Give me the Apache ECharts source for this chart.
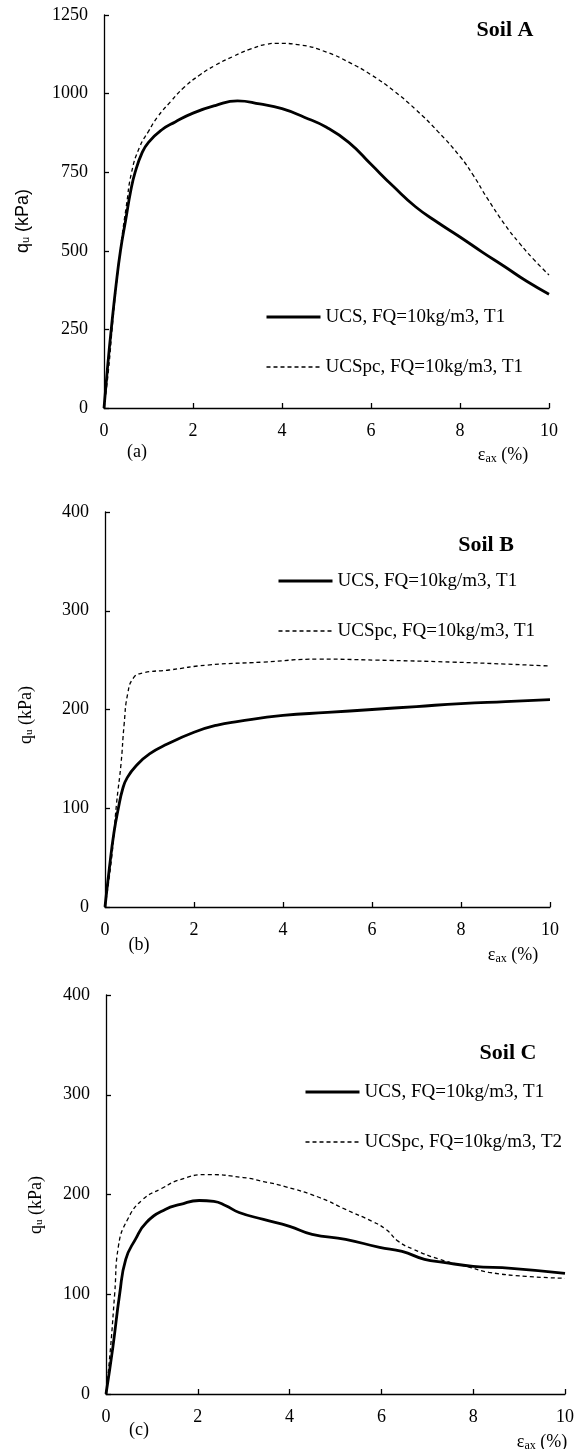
<!DOCTYPE html>
<html>
<head>
<meta charset="utf-8">
<script src="https://cdn.jsdelivr.net/npm/echarts@6/dist/echarts.min.js"></script>
<style>
  html, body { margin: 0; padding: 0; background: #fff; }
  #main { width: 588px; height: 1449px; }
</style>
</head>
<body>
<div id="main"></div>
<script>
// Soil A  (strain %, q kPa)
var epsA_ucs = [0, 0.08, 0.17, 0.27, 0.37, 0.49, 0.6, 0.7, 0.85, 1.0, 1.3, 1.6, 2.0, 2.5, 3.0, 3.5, 4.0, 4.5, 5.0, 5.5, 6.0, 6.5, 7.0, 7.5, 8.0, 8.5, 9.0, 9.5, 10];
var qA_ucs   = [0, 130, 260, 390, 500, 600, 690, 750, 810, 845, 885, 910, 938, 962, 977, 967, 952, 925, 893, 845, 775, 705, 640, 590, 544, 496, 450, 403, 362];
var epsA_pc  = [0, 0.1, 0.2, 0.3, 0.4, 0.5, 0.62, 0.8, 1.0, 1.2, 1.5, 1.8, 2.16, 2.5, 2.9, 3.3, 3.66, 3.9, 4.4, 5.0, 5.5, 6.0, 6.5, 7.0, 7.5, 8.0, 8.3, 8.6, 9.0, 9.33, 9.66, 10];
var qA_pc    = [0, 120, 280, 420, 540, 640, 750, 830, 880, 925, 975, 1020, 1060, 1090, 1118, 1142, 1157, 1160, 1155, 1132, 1100, 1060, 1010, 950, 880, 800, 740, 670, 585, 525, 472, 423];

// Soil B
var epsB_ucs = [0, 0.1, 0.2, 0.3, 0.4, 0.5, 0.7, 1.0, 1.4, 2.0, 2.5, 3.0, 4.0, 5.0, 6.0, 7.0, 8.0, 9.0, 10];
var qB_ucs   = [0, 40, 75, 100, 120, 131, 143, 155, 165, 177, 184, 188, 194, 197, 200, 203, 206, 208, 210];
var epsB_pc  = [0, 0.15, 0.26, 0.36, 0.43, 0.51, 0.64, 0.85, 1.44, 2.3, 3.55, 4.8, 6.1, 7.8, 9.0, 10];
var qB_pc    = [0, 50, 105, 145, 185, 216, 232, 237, 240, 245, 248, 251, 250, 248, 246, 244];

// Soil C
var epsC_ucs = [0, 0.15, 0.3, 0.43, 0.64, 0.88, 1.29, 1.62, 2.03, 2.35, 2.6, 2.9, 3.43, 4.0, 4.49, 5.22, 5.96, 6.45, 6.94, 7.35, 8.0, 8.83, 10];
var qC_ucs   = [0, 47, 101, 135, 155, 172, 185, 190, 194, 193, 189, 182, 175, 168, 160, 155, 147, 143, 135, 132, 128, 126, 121];
var epsC_pc  = [0, 0.1, 0.19, 0.27, 0.47, 0.8, 1.21, 1.62, 2.2, 2.99, 3.43, 3.9, 4.65, 5.22, 5.8, 6.1, 6.37, 6.7, 7.27, 7.93, 8.34, 9.15, 10];
var qC_pc    = [0, 47, 101, 148, 175, 195, 206, 215, 220, 217, 213, 208, 197, 185, 173, 165, 153, 145, 135, 127, 122, 118, 116];

var xTicks = [0, 2, 4, 6, 8, 10];
var yMaxA = 1250, yStepA = 250;
var yMaxBC = 400, yStepBC = 100;

var nameUcs = 'UCS, FQ=10kg/m3, T1';
var namePcT1 = 'UCSpc, FQ=10kg/m3, T1';
var namePcT2 = 'UCSpc, FQ=10kg/m3, T2';

function pairs(xs, ys) {
    return xs.map(function (x, i) { return [x, ys[i]]; });
}

var serif = '"Liberation Serif", "Times New Roman", serif';
var myChart = echarts.init(document.getElementById('main'));

var grids = [
    {left: 104, top: 15, width: 445, height: 393},
    {left: 105, top: 512, width: 445, height: 395},
    {left: 106, top: 995, width: 459, height: 399}
];

function xAx(i) {
    return {
        gridIndex: i, type: 'value', min: 0, max: 10, interval: 2,
        axisLine: {lineStyle: {color: '#000', width: 1.3}},
        axisTick: {inside: true, length: 5, lineStyle: {color: '#000', width: 1.3}},
        splitLine: {show: false},
        axisLabel: {color: '#000', fontFamily: serif, fontSize: 18, margin: 14,
            formatter: function (v) { return xTicks.indexOf(v) >= 0 ? String(v) : ''; }}
    };
}
function yAx(i, max, step) {
    return {
        gridIndex: i, type: 'value', min: 0, max: max, interval: step,
        axisLine: {show: true, lineStyle: {color: '#000', width: 1.3}},
        axisTick: {show: true, inside: true, length: 5, lineStyle: {color: '#000', width: 1.3}},
        splitLine: {show: false},
        axisLabel: {color: '#000', fontFamily: serif, fontSize: 18, margin: 16,
            formatter: function (v) { return String(v); }}
    };
}

function solid(name, i, xs, ys) {
    return {name: name, type: 'line', xAxisIndex: i, yAxisIndex: i, data: pairs(xs, ys),
        showSymbol: false, symbol: 'none', smooth: 0.5,
        lineStyle: {color: '#000', width: 2.8}, itemStyle: {color: '#000'}, z: 3};
}
function dashed(name, i, xs, ys) {
    return {name: name, type: 'line', xAxisIndex: i, yAxisIndex: i, data: pairs(xs, ys),
        showSymbol: false, symbol: 'none', smooth: 0.5,
        lineStyle: {color: '#000', width: 1.3, type: [4, 3]}, itemStyle: {color: '#000'}, z: 2};
}

function legendAt(left, top, names) {
    return {
        left: left, top: top, orient: 'vertical', itemGap: 30,
        itemWidth: 54, itemHeight: 14, selectedMode: false,
        itemStyle: {opacity: 0},
        data: [
            {name: names[0], lineStyle: {color: '#000', width: 3, type: 'solid'}},
            {name: names[1], lineStyle: {color: '#000', width: 1.3, type: [4, 3]}}
        ],
        textStyle: {color: '#000', fontFamily: serif, fontSize: 19, lineHeight: 20}
    };
}

var subRich = {
    s: {fontFamily: serif, fontSize: 12, padding: [7, 0, 0, 0]},
    b: {fontFamily: serif, fontSize: 18}
};
function txt(x, y, text, opts) {
    return {type: 'text', x: x, y: y,
        style: Object.assign({text: text, fill: '#000', font: '18px ' + serif, align: 'center', verticalAlign: 'middle'}, opts || {})};
}
function yTitle(x, y, family) {
    return {type: 'text', x: x, y: y, rotation: Math.PI / 2,
        style: {text: '{b|q}{s|u}{b| (kPa)}', fill: '#000', align: 'center', verticalAlign: 'middle',
            rich: {b: {fontFamily: family, fontSize: 18}, s: {fontFamily: family, fontSize: 11, padding: [6, 0, 0, 0]}}}};
}
function epsTitle(x, y) {
    return {type: 'text', x: x, y: y,
        style: {text: '{b|ε}{s|ax}{b| (%)}', fill: '#000', align: 'center', verticalAlign: 'middle', rich: subRich}};
}

var option = {
    animation: false,
    backgroundColor: '#fff',
    grid: grids,
    xAxis: [xAx(0), xAx(1), xAx(2)],
    yAxis: [yAx(0, yMaxA, yStepA), yAx(1, yMaxBC, yStepBC), yAx(2, yMaxBC, yStepBC)],
    legend: [
        legendAt(260, 302, [nameUcs, namePcT1]),
        legendAt(272, 566, [nameUcs, namePcT1]),
        legendAt(299, 1077, [nameUcs, namePcT2])
    ],
    series: [
        solid(nameUcs, 0, epsA_ucs, qA_ucs),
        dashed(namePcT1, 0, epsA_pc, qA_pc),
        solid(nameUcs, 1, epsB_ucs, qB_ucs),
        dashed(namePcT1, 1, epsB_pc, qB_pc),
        solid(nameUcs, 2, epsC_ucs, qC_ucs),
        dashed(namePcT2, 2, epsC_pc, qC_pc)
    ],
    graphic: [
        txt(505, 30, 'Soil A', {font: 'bold 22px ' + serif}),
        txt(486, 545, 'Soil B', {font: 'bold 22px ' + serif}),
        txt(508, 1053, 'Soil C', {font: 'bold 22px ' + serif}),
        txt(137, 452, '(a)'),
        txt(139, 945, '(b)'),
        txt(139, 1430, '(c)'),
        epsTitle(503, 455),
        epsTitle(513, 955),
        epsTitle(542, 1442),
        yTitle(23, 221, '"Liberation Sans", Arial, sans-serif'),
        yTitle(26, 715, serif),
        yTitle(36, 1205, serif)
    ]
};

myChart.setOption(option);
</script>
</body>
</html>
